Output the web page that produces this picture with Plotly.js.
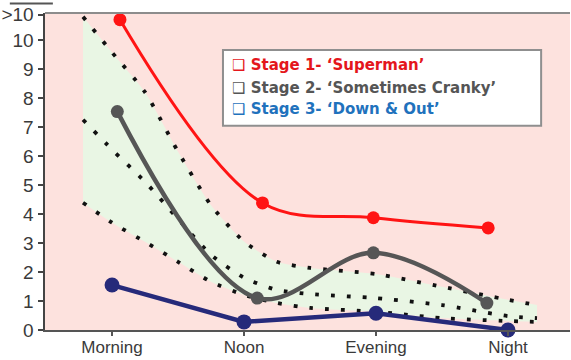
<!DOCTYPE html>
<html>
<head>
<meta charset="utf-8">
<script src="https://cdn.plot.ly/plotly-3.0.1.min.js"></script>
<style>html,body{margin:0;padding:0;background:#fff;}#chart{width:571px;height:360px;}</style>
</head>
<body>
<div id="chart"></div>
<script>
// ---- data ----
const categories = ['Morning', 'Noon', 'Evening', 'Night'];
const categoryPos = [0, 1, 2, 3];
const yTickVals = [0, 1, 2, 3, 4, 5, 6, 7, 8, 9, 10, 10.87];
const yTickText = ['0', '1', '2', '3', '4', '5', '6', '7', '8', '9', '10', '>10'];

const stage1Name = 'Stage 1- \u2018Superman\u2019';
const stage1X = [0.06, 1.14, 1.98, 2.85];
const stage1Y = [10.7, 4.38, 3.87, 3.52];

const stage2Name = 'Stage 2- \u2018Sometimes Cranky\u2019';
const stage2X = [0.04, 1.10, 1.98, 2.84];
const stage2Y = [7.53, 1.10, 2.66, 0.93];

const stage3Name = 'Stage 3- \u2018Down & Out\u2019';
const stage3X = [0, 1, 2, 3];
const stage3Y = [1.55, 0.28, 0.58, 0.0];

const bandX   = [-0.22, 0, 0.25, 0.5, 0.75, 1, 1.25, 1.5, 2, 2.5, 3, 3.22];
const upperY  = [10.8, 9.57, 8.2, 6.15, 4.3, 3.05, 2.35, 2.14, 1.93, 1.49, 1.04, 0.86];
const middleY = [7.25, 6.22, 5.11, 3.83, 2.59, 1.8, 1.38, 1.24, 1.1, 0.86, 0.48, 0.41];
const lowerY  = [4.39, 3.7, 3.04, 2.35, 1.66, 1.21, 0.93, 0.76, 0.63, 0.41, 0.31, 0.28];

// ---- styles ----
const dotLine = {color: '#111', width: 3.8, dash: '3.8px,12px', shape: 'spline', smoothing: 0.6};

const traces = [
  {x: bandX, y: lowerY, mode: 'lines', line: {width: 0, shape: 'spline', smoothing: 0.6}, hoverinfo: 'skip', showlegend: false},
  {x: bandX, y: upperY, mode: 'lines', fill: 'tonexty', fillcolor: '#e9f6e4', line: {width: 0, shape: 'spline', smoothing: 0.6}, hoverinfo: 'skip', showlegend: false},
  {x: bandX, y: upperY, mode: 'lines', line: dotLine, showlegend: false},
  {x: bandX, y: middleY, mode: 'lines', line: dotLine, showlegend: false},
  {x: bandX, y: lowerY, mode: 'lines', line: dotLine, showlegend: false},
  {x: stage1X, y: stage1Y, name: stage1Name, mode: 'lines+markers', cliponaxis: false,
   line: {color: '#ff1414', width: 3, shape: 'spline', smoothing: 1},
   marker: {color: '#ff1414', size: 13}},
  {x: stage2X, y: stage2Y, name: stage2Name, mode: 'lines+markers', cliponaxis: false,
   line: {color: '#565656', width: 4.5, shape: 'spline', smoothing: 1},
   marker: {color: '#565656', size: 13}},
  {x: stage3X, y: stage3Y, name: stage3Name, mode: 'lines+markers', cliponaxis: false,
   line: {color: '#262a7a', width: 4.5},
   marker: {color: '#262a7a', size: 15}}
];

const axisFont = {family: '"Liberation Sans Narrow", "Arial Narrow", "Liberation Sans", sans-serif', color: '#3a3a3a'};

const legendFont = {family: '"DejaVu Sans", Verdana, sans-serif', size: 15};
function legendLine(text, color, y) {
  return {xref: 'paper', yref: 'paper', x: 0.352, y: y, xanchor: 'left', yanchor: 'middle',
          showarrow: false, text: '<b>\u2751\u00a0' + text + '</b>',
          font: Object.assign({color: color}, legendFont)};
}

const layout = {
  width: 571, height: 360,
  margin: {l: 45, r: 1, t: 13, b: 30, pad: 0},
  paper_bgcolor: '#ffffff',
  plot_bgcolor: '#fde2de',
  showlegend: false,
  xaxis: {
    range: [-0.508, 3.47], tickvals: categoryPos, ticktext: categories,
    showgrid: false, zeroline: false, showline: true, linecolor: '#555', linewidth: 2,
    ticks: 'outside', ticklen: 4, tickwidth: 1.5, tickcolor: '#555',
    ticklabelstandoff: -3,
    tickfont: Object.assign({size: 17}, axisFont), fixedrange: true
  },
  yaxis: {
    range: [0, 10.93], tickvals: yTickVals, ticktext: yTickText,
    showgrid: false, zeroline: false, showline: true, linecolor: '#444', linewidth: 2.5,
    ticks: 'outside', ticklen: 5, tickwidth: 2, tickcolor: '#444',
    tickfont: Object.assign({size: 19}, axisFont), fixedrange: true
  },
  shapes: [
    {type: 'line', xref: 'paper', yref: 'paper', x0: 0, x1: 1, y0: 1, y1: 1, line: {color: '#8c8c8c', width: 2}},
    {type: 'line', xref: 'paper', yref: 'paper', x0: -0.067, x1: 0.015, y0: 1.03, y1: 1.03, line: {color: '#555', width: 2}},
    {type: 'rect', xref: 'paper', yref: 'paper', x0: 0.339, x1: 0.945, y0: 0.644, y1: 0.883,
     fillcolor: '#ffffff', line: {color: '#8f8f8f', width: 2}, layer: 'above'}
  ],
  annotations: [
    legendLine(stage1Name, '#e4161c', 0.836),
    legendLine(stage2Name, '#555555', 0.764),
    legendLine(stage3Name, '#1f72bd', 0.697)
  ]
};

Plotly.newPlot('chart', traces, layout, {displayModeBar: false, staticPlot: true});
</script>
</body>
</html>
